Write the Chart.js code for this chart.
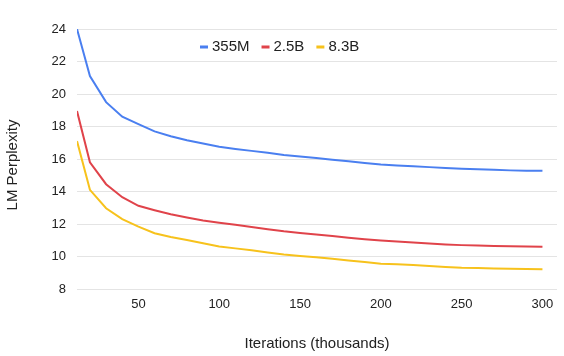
<!DOCTYPE html>
<html>
<head>
<meta charset="utf-8">
<script src="https://cdn.jsdelivr.net/npm/chart.js@4"></script>
<style>
  html, body { margin: 0; padding: 0; background: #fff; }
  #wrap { width: 564px; height: 356px; }
</style>
</head>
<body>
<div id="wrap"><canvas id="c" width="564" height="356"></canvas></div>
<script>
const iterations = [12,20,30,40,50,60,70,80,90,100,110,120,130,140,150,160,170,180,190,200,210,220,230,240,250,260,270,280,290,300];
const ppl355M = [24.0,21.1,19.5,18.6,18.15,17.7,17.4,17.15,16.95,16.75,16.62,16.5,16.38,16.25,16.15,16.06,15.96,15.86,15.76,15.66,15.6,15.55,15.5,15.45,15.4,15.37,15.34,15.3,15.28,15.27];
const ppl2_5B = [18.95,15.8,14.45,13.65,13.12,12.85,12.6,12.4,12.22,12.08,11.95,11.82,11.68,11.55,11.45,11.36,11.26,11.16,11.06,10.98,10.92,10.86,10.8,10.74,10.7,10.67,10.65,10.63,10.62,10.6];
const ppl8_3B = [17.1,14.1,12.97,12.3,11.84,11.43,11.2,11.02,10.82,10.62,10.5,10.38,10.25,10.12,10.03,9.95,9.86,9.76,9.66,9.56,9.52,9.47,9.41,9.36,9.31,9.29,9.26,9.25,9.23,9.22];
const seriesNames = ['355M', '2.5B', '8.3B'];
const xTicks = [50, 100, 150, 200, 250, 300];
const yTicks = [8, 10, 12, 14, 16, 18, 20, 22, 24];
const yTitle = 'LM Perplexity';

const colors = ['#4a7ff0', '#e0434a', '#f7c21c'];
const FONT = "'Liberation Sans', Arial, sans-serif";

function toPoints(ys) { return iterations.map((x, i) => ({ x: x, y: ys[i] })); }

const insideLegend = {
  id: 'insideLegend',
  afterDraw(chart) {
    const ctx = chart.ctx;
    const area = chart.chartArea;
    ctx.save();
    ctx.font = '15px ' + FONT;
    ctx.textBaseline = 'middle';
    let x = area.left + 123;
    const y = area.top + 18;
    chart.data.datasets.forEach((ds) => {
      ctx.fillStyle = ds.borderColor;
      ctx.fillRect(x, y - 1.5, 8, 3);
      x += 12;
      ctx.fillStyle = '#222';
      ctx.fillText(ds.label, x, y);
      x += ctx.measureText(ds.label).width + 12;
    });
    // y-axis title
    ctx.translate(13, (area.top + area.bottom) / 2 + 6);
    ctx.rotate(-Math.PI / 2);
    ctx.textAlign = 'center';
    ctx.fillStyle = '#222';
    ctx.fillText(yTitle, 0, 0);
    ctx.restore();
  }
};

new Chart(document.getElementById('c'), {
  type: 'line',
  data: {
    datasets: [
      { label: seriesNames[0], data: toPoints(ppl355M), borderColor: colors[0] },
      { label: seriesNames[1], data: toPoints(ppl2_5B), borderColor: colors[1] },
      { label: seriesNames[2], data: toPoints(ppl8_3B), borderColor: colors[2] }
    ].map(d => Object.assign(d, { borderWidth: 2, pointRadius: 0, tension: 0, fill: false }))
  },
  options: {
    responsive: false,
    animation: false,
    layout: { padding: { left: 0, right: 7, top: 29, bottom: 0 } },
    plugins: { legend: { display: false }, tooltip: { enabled: false } },
    scales: {
      x: {
        type: 'linear',
        min: 12,
        max: 309,
        border: { display: false },
        grid: { display: false, drawTicks: false },
        afterBuildTicks: (s) => { s.ticks = xTicks.map(v => ({ value: v })); },
        ticks: { font: { family: FONT, size: 13 }, color: '#222', padding: 8, maxRotation: 0 },
        title: { display: true, text: 'Iterations (thousands)', font: { family: FONT, size: 15 }, color: '#222', padding: { top: 0, bottom: 3 } },
        afterFit: (s) => { s.height = 67; }
      },
      y: {
        min: 8,
        max: 24,
        border: { display: false },
        grid: { color: '#e4e4e4', lineWidth: 1, drawTicks: false },
        afterBuildTicks: (s) => { s.ticks = yTicks.map(v => ({ value: v })); },
        ticks: { font: { family: FONT, size: 13 }, color: '#222', padding: 11 },
        title: { display: false },
        afterFit: (s) => { s.width = 77; }
      }
    }
  },
  plugins: [insideLegend]
});
</script>
</body>
</html>
